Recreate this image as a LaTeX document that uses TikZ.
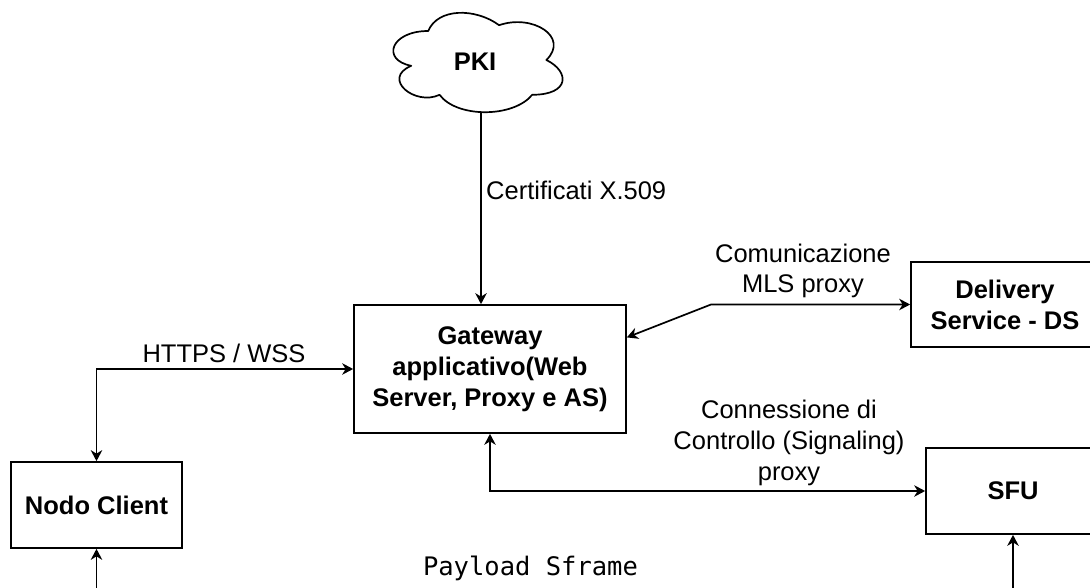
\documentclass[tikz,border=0pt]{standalone}
\usepackage{fontspec}
\setmainfont{Liberation Sans}
\newfontfamily\monofont{DejaVu Sans Mono}
\usetikzlibrary{arrows.meta}
\begin{document}
\begin{tikzpicture}[x=1pt,y=-1pt,
  >={Stealth[length=11pt,width=11.5pt,inset=3.5pt]},
  every node/.style={font=\fontsize{25.5}{30.8}\selectfont, inner sep=0pt},
  lbl/.style={align=center},
  box/.style={draw, line width=1.7pt, align=center,
    font=\fontsize{25.5}{30.8}\selectfont\bfseries},
  conn/.style={line width=1.7pt},
  cloudline/.style={line width=1.7pt, line join=round}]
\useasboundingbox (0,0) rectangle (1090,588);
\clip (0,0) rectangle (1090,588);

% cloud (PKI)
\begin{scope}[xshift=381pt, yshift=-2pt, x=189pt, y=-116pt]
\draw[cloudline] (0.25,0.25) .. controls (0.05,0.25) and (0,0.5) .. (0.16,0.55)
  .. controls (0,0.66) and (0.18,0.9) .. (0.31,0.8)
  .. controls (0.4,1) and (0.7,1) .. (0.8,0.8)
  .. controls (1,0.8) and (1,0.6) .. (0.875,0.5)
  .. controls (1,0.3) and (0.8,0.1) .. (0.625,0.2)
  .. controls (0.5,0.05) and (0.3,0.05) .. (0.25,0.25) -- cycle;
\end{scope}
\node[font=\fontsize{25.5}{30.8}\selectfont\bfseries] (pki) at (475,62) {PKI};

% boxes
\node[box, minimum width=272pt, minimum height=128pt] (gw) at (490,369)
  {Gateway\\applicativo(Web\\Server, Proxy e AS)};
\node[box, minimum width=171pt, minimum height=86pt] (nc) at (96.5,505) {Nodo Client};
\node[box, minimum width=188pt, minimum height=85pt] (ds) at (1005,304.5) {Delivery\\Service - DS};
\node[box, minimum width=174pt, minimum height=86pt] (sfu) at (1013,491) {SFU};

% coordinates
\coordinate (pkib) at (481,112);
\coordinate (mlsbend) at (711,304.5);
\coordinate (ncb) at (96.5,630);
\coordinate (sfub) at (1013,630);

% connectors
\draw[conn,->] (pkib) -- (pkib |- gw.north);
\draw[conn,<->] (nc.north) |- (gw.west);
\draw[conn,<->] (gw.13.2) -- (mlsbend) -- (ds.west);
\draw[conn,<->] (gw.south) |- (sfu.west);
\draw[conn,->] (ncb) -- (nc.south);
\draw[conn,->] (sfub) -- (sfu.south);

% labels
\node[anchor=west] (lcert) at (486,190) {Certificati X.509};
\node (lhttps) at (224,353) {HTTPS / WSS};
\node[lbl] (lmls) at (803,271) {Comunicazione\\MLS proxy};
\node[lbl] (lsig) at (789,443) {Connessione di\\Controllo (Signaling)\\proxy};
\node[font=\fontsize{25.5}{30.8}\monofont] (payload) at (530.5,568) {Payload Sframe};
\end{tikzpicture}
\end{document}
